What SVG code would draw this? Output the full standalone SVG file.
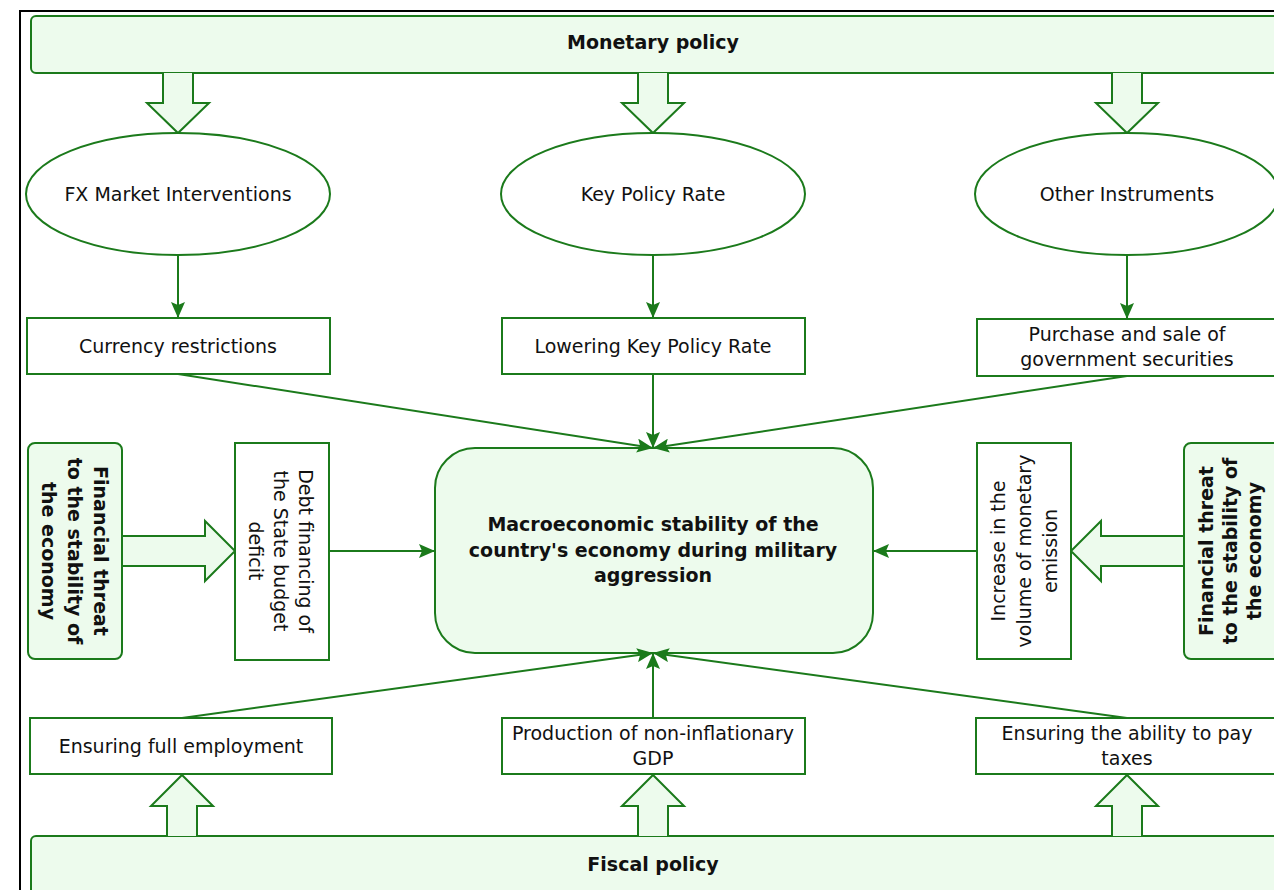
<svg xmlns="http://www.w3.org/2000/svg" width="1274" height="890" viewBox="0 0 1274 890">
<defs>
<style>
.box{fill:#ffffff;stroke:#1b7a1b;stroke-width:2}
.gbox{fill:#edfbed;stroke:#1b7a1b;stroke-width:2}
.blk{fill:#edfbed;stroke:#1b7a1b;stroke-width:2;stroke-linejoin:miter}
.t{font-family:"DejaVu Sans","Verdana",sans-serif;font-size:19px;fill:#111;text-anchor:middle;dominant-baseline:central}
.b{font-family:"DejaVu Sans","Verdana",sans-serif;font-size:19px;font-weight:bold;fill:#111;text-anchor:middle;dominant-baseline:central}
.c{fill:none;stroke:#1b7a1b;stroke-width:2}
</style>
<marker id="ah" viewBox="0 0 16 14" markerUnits="userSpaceOnUse" markerWidth="16" markerHeight="14" refX="16" refY="7" orient="auto">
<path d="M0,0 L16,7 L0,14 L3,7 Z" fill="#1b7a1b"/>
</marker>
</defs>
<rect width="1274" height="890" fill="#ffffff"/>
<g id="frame"><path d="M20,890 L20,11 L1274,11" fill="none" stroke="#000" stroke-width="2"/></g>

<g id="monetary"><rect class="gbox" x="31" y="16" width="1260" height="57" rx="5"/><text class="b" x="653" y="42">Monetary policy</text></g>
<g id="fiscal"><rect class="gbox" x="31" y="836" width="1260" height="80" rx="5"/><text class="b" x="653" y="864">Fiscal policy</text></g>

<g id="blockarrows">
<path class="blk" d="M163,73 L163,103 L147,103 L178,133 L209,103 L193,103 L193,73"/>
<path class="blk" d="M638,73 L638,103 L622,103 L653,133 L684,103 L668,103 L668,73"/>
<path class="blk" d="M1112,73 L1112,103 L1096,103 L1127,133 L1158,103 L1142,103 L1142,73"/>
<path class="blk" d="M167,836 L167,806 L151,806 L182,775 L213,806 L197,806 L197,836"/>
<path class="blk" d="M638,836 L638,806 L622,806 L653,775 L684,806 L668,806 L668,836"/>
<path class="blk" d="M1112,836 L1112,806 L1096,806 L1127,775 L1158,806 L1142,806 L1142,836"/>
<path class="blk" d="M122,536 L205,536 L205,521 L235,551 L205,581 L205,566 L122,566"/>
<path class="blk" d="M1184,536 L1101,536 L1101,521 L1071,551 L1101,581 L1101,566 L1184,566"/>
</g>

<g id="fx"><ellipse class="box" cx="178" cy="194" rx="152" ry="61"/><text class="t" x="178" y="194">FX Market Interventions</text></g>
<g id="kpr"><ellipse class="box" cx="653" cy="194" rx="152" ry="61"/><text class="t" x="653" y="194">Key Policy Rate</text></g>
<g id="other"><ellipse class="box" cx="1127" cy="194" rx="152" ry="61"/><text class="t" x="1127" y="194">Other Instruments</text></g>

<g id="currency"><rect class="box" x="27" y="318" width="303" height="56"/><text class="t" x="178" y="346">Currency restrictions</text></g>
<g id="lowering"><rect class="box" x="502" y="318" width="303" height="56"/><text class="t" x="653" y="346">Lowering Key Policy Rate</text></g>
<g id="purchase"><rect class="box" x="977" y="319" width="303" height="57"/><text class="t" x="1127" y="334">Purchase and sale of</text><text class="t" x="1127" y="359">government securities</text></g>

<g id="center"><rect class="gbox" x="435" y="448" width="438" height="205" rx="40" stroke-width="2.5"/>
<text class="b" x="653" y="524">Macroeconomic stability of the</text>
<text class="b" x="653" y="550">country's economy during military</text>
<text class="b" x="653" y="575">aggression</text></g>

<g id="threatL"><rect class="gbox" x="28" y="443" width="94" height="216" rx="7"/>
<g transform="translate(75,551) rotate(90)"><text class="b" x="0" y="-26">Financial threat</text><text class="b" x="0" y="0">to the stability of</text><text class="b" x="0" y="26">the economy</text></g></g>

<g id="debt"><rect class="box" x="235" y="443" width="94" height="217" stroke-width="3"/>
<g transform="translate(281,551) rotate(90)"><text class="t" x="0" y="-25">Debt financing of</text><text class="t" x="0" y="0">the State budget</text><text class="t" x="0" y="25">deficit</text></g></g>

<g id="increase"><rect class="box" x="977" y="443" width="94" height="216"/>
<g transform="translate(1024,551) rotate(-90)"><text class="t" x="0" y="-26">Increase in the</text><text class="t" x="0" y="0">volume of monetary</text><text class="t" x="0" y="26">emission</text></g></g>

<g id="threatR"><rect class="gbox" x="1184" y="443" width="110" height="216" rx="7"/>
<g transform="translate(1230,551) rotate(-90)"><text class="b" x="0" y="-24">Financial threat</text><text class="b" x="0" y="0">to the stability of</text><text class="b" x="0" y="24">the economy</text></g></g>

<g id="employment"><rect class="box" x="30" y="718" width="302" height="56"/><text class="t" x="181" y="746">Ensuring full employment</text></g>
<g id="gdp"><rect class="box" x="502" y="718" width="303" height="56"/><text class="t" x="653" y="733">Production of non-inflationary</text><text class="t" x="653" y="758">GDP</text></g>
<g id="taxes"><rect class="box" x="976" y="718" width="303" height="56"/><text class="t" x="1127" y="733">Ensuring the ability to pay</text><text class="t" x="1127" y="758">taxes</text></g>

<g id="connectors">
<path class="c" d="M178,255 L178,318" marker-end="url(#ah)"/>
<path class="c" d="M653,255 L653,318" marker-end="url(#ah)"/>
<path class="c" d="M1127,255 L1127,319" marker-end="url(#ah)"/>
<path class="c" d="M178,374 L653,448" marker-end="url(#ah)"/>
<path class="c" d="M653,374 L653,448" marker-end="url(#ah)"/>
<path class="c" d="M1127,376 L653,448" marker-end="url(#ah)"/>
<path class="c" d="M329,551 L435,551" marker-end="url(#ah)"/>
<path class="c" d="M977,551 L873,551" marker-end="url(#ah)"/>
<path class="c" d="M182,718 L653,653" marker-end="url(#ah)"/>
<path class="c" d="M653,718 L653,653" marker-end="url(#ah)"/>
<path class="c" d="M1127,718 L653,653" marker-end="url(#ah)"/>
</g>
</svg>
